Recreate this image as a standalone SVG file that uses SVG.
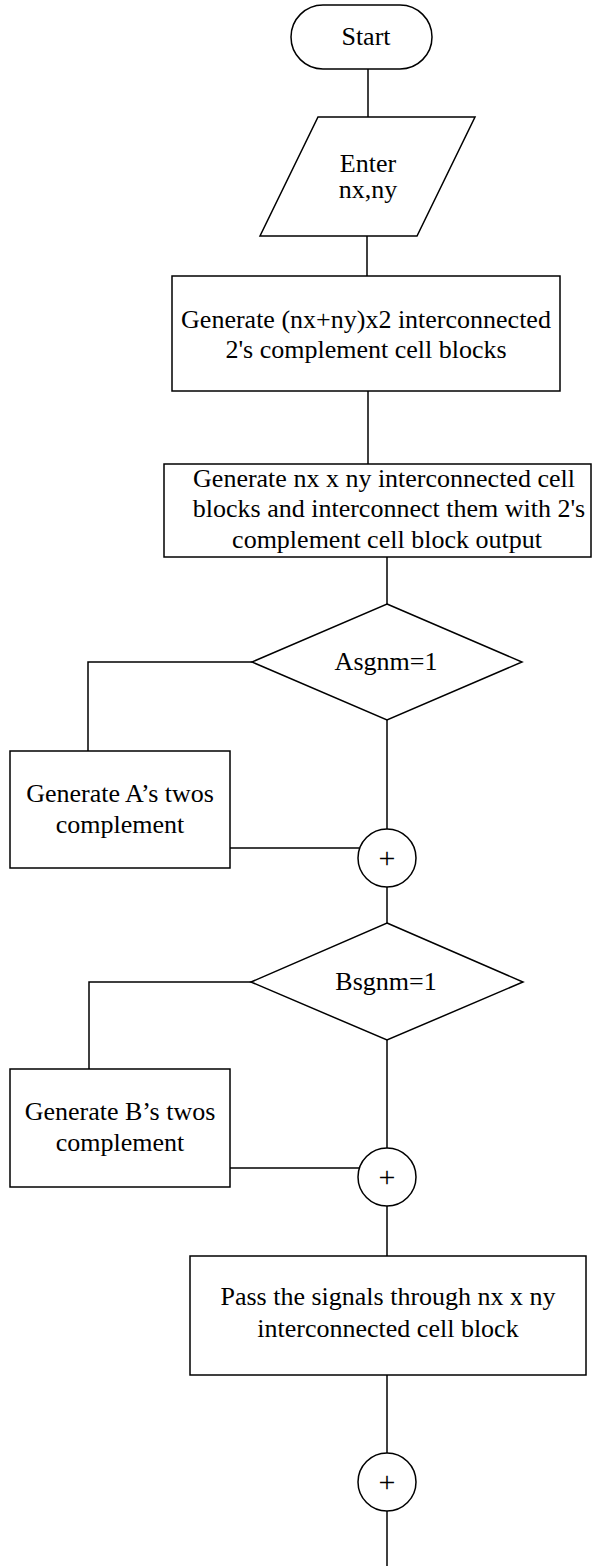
<svg xmlns="http://www.w3.org/2000/svg" width="605" height="1566" viewBox="0 0 605 1566">
<style>
.s{fill:#fff;stroke:#000;stroke-width:1.5}
.c{fill:none;stroke:#000;stroke-width:1.5}
text{font-family:"Liberation Serif","Times New Roman",serif;font-size:26px;fill:#000;text-anchor:middle}
.p{font-size:30px}
</style>
<rect width="605" height="1566" fill="#fff"/>
<g id="connectors">
<path class="c" d="M368,69V117"/>
<path class="c" d="M367,236V276"/>
<path class="c" d="M368,391V464"/>
<path class="c" d="M387,557V604"/>
<path class="c" d="M252,662H88V751"/>
<path class="c" d="M230,848H359"/>
<path class="c" d="M387,720V829"/>
<path class="c" d="M387,887V923"/>
<path class="c" d="M251,982H89V1069"/>
<path class="c" d="M230,1168H359"/>
<path class="c" d="M387,1040V1148"/>
<path class="c" d="M387,1206V1256"/>
<path class="c" d="M387,1375V1453"/>
<path class="c" d="M387,1511V1566"/>
</g>
<g id="start">
<rect class="s" x="291" y="5" width="141" height="64" rx="32"/>
<text x="366" y="45">Start</text>
</g>
<g id="input">
<polygon class="s" points="318,117 475,117 417,236 260,236"/>
<text x="368" y="172">Enter</text>
<text x="368" y="198">nx,ny</text>
</g>
<g id="gen-twos-blocks">
<rect class="s" x="172" y="276" width="388" height="115"/>
<text x="366" y="328">Generate (nx+ny)x2 interconnected</text>
<text x="366" y="358">2's complement cell blocks</text>
</g>
<g id="gen-cell-blocks">
<rect class="s" x="164" y="464" width="427" height="93"/>
<text x="384" y="487">Generate nx x ny interconnected cell</text>
<text x="389" y="517">blocks and interconnect them with 2's</text>
<text x="387" y="548">complement cell block output</text>
</g>
<g id="asgnm">
<polygon class="s" points="387,604 522,662 387,720 252,662"/>
<text x="386" y="670">Asgnm=1</text>
</g>
<g id="gen-a">
<rect class="s" x="10" y="751" width="220" height="117"/>
<text x="120" y="802">Generate A’s twos</text>
<text x="120" y="833">complement</text>
</g>
<g id="join-a">
<circle class="s" cx="387" cy="858" r="29"/>
<text class="p" x="387" y="868">+</text>
</g>
<g id="bsgnm">
<polygon class="s" points="387,923 523,982 387,1040 251,982"/>
<text x="386" y="990">Bsgnm=1</text>
</g>
<g id="gen-b">
<rect class="s" x="10" y="1069" width="220" height="118"/>
<text x="120" y="1120">Generate B’s twos</text>
<text x="120" y="1151">complement</text>
</g>
<g id="join-b">
<circle class="s" cx="387" cy="1177" r="29"/>
<text class="p" x="387" y="1187">+</text>
</g>
<g id="pass">
<rect class="s" x="190" y="1256" width="396" height="119"/>
<text x="388" y="1305">Pass the signals through nx x ny</text>
<text x="388" y="1337">interconnected cell block</text>
</g>
<g id="join-c">
<circle class="s" cx="387" cy="1482" r="29"/>
<text class="p" x="387" y="1492">+</text>
</g>
</svg>
